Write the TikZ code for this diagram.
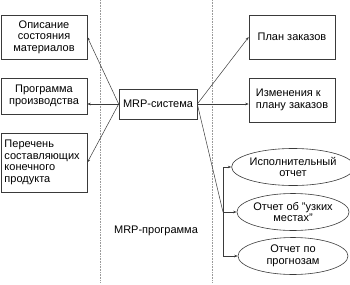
\documentclass[tikz,border=0pt]{standalone}
\usepackage{fontspec}
\setmainfont{Liberation Sans}
\definecolor{edge}{HTML}{3A3A3A}
\definecolor{divider}{HTML}{9A9A9A}
\usetikzlibrary{shapes.geometric,arrows.meta,positioning,calc}

\begin{document}
\begin{tikzpicture}[x=1pt,y=-1pt,
  box/.style={rectangle, draw=edge, line width=0.6pt, minimum height=44pt, minimum width=86pt, align=center, inner sep=2pt, font=\fontsize{11}{11.5}\selectfont},
  report/.style={ellipse, draw=edge, line width=0.6pt, minimum width=110pt, minimum height=37pt, inner sep=0pt, align=center, font=\fontsize{11}{11.5}\selectfont},
  link/.style={edge, line width=0.5pt, -{Stealth[length=3.5pt,width=2.5pt]}},
  wire/.style={edge, line width=0.5pt},
  divide/.style={divider, line width=0.6pt, dash pattern=on 0.8pt off 0.8pt}]
\useasboundingbox (0,0) rectangle (350,284);
% zone borders
\draw[divide] (100,0) -- (100,282);
\draw[divide] (212,0) -- (212,282);
\node[font=\fontsize{11}{11.5}\selectfont] (zone) at (156,231) {MRP-программа};
% inputs
\node[box] (mat) at (44,37) {Описание\\состояния\\материалов};
\node[box, minimum height=36pt] (prog) at (44,96) {Программа\\производства};
\node[box, minimum height=59pt, align=left, text width=79pt, inner xsep=3pt] (list) at (44,162.5) {Перечень\\составляющих\\конечного\\продукта};
% system
\node[box, minimum width=78pt, minimum height=30pt] (mrp) at (158,104) {MRP-система};
% outputs
\node[box] (plan) at (292,37) {План заказов};
\node[box, align=left] (change) at (292,100) {Изменения к\\плану заказов};
\node[report] (rep1) at (293,167) {Исполнительный\\отчет};
\node[report] (rep2) at (293,212) {Отчет об "узких\\местах"};
\node[report] (rep3) at (293,256) {Отчет по\\прогнозам};
% connectors
\coordinate (bustop) at (223,167);
\coordinate (busmid) at (223,212);
\coordinate (busbot) at (223,256);
\foreach \t in {mat,list} \draw[link] (mrp.west) -- (\t.east);
\draw[link] (mrp.west) -- (mrp.west -| prog.east);
\draw[link] (mrp.east) -- (plan.west);
\draw[link] (mrp.east) -- (mrp.east -| change.west);
\draw[wire] (mrp.east) -- (busmid);
\draw[wire] (bustop) -- (busbot);
\foreach \b/\r in {bustop/rep1,busmid/rep2,busbot/rep3} \draw[link] (\b) -- (\r.west);
\end{tikzpicture}
\end{document}
